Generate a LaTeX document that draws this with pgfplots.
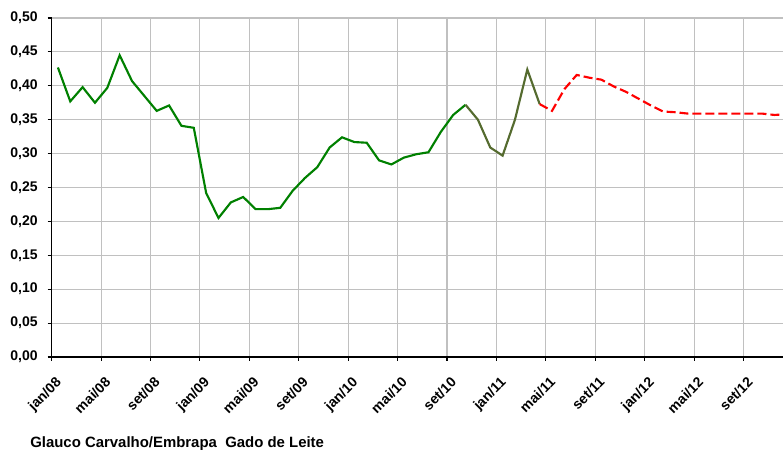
\documentclass[border=0pt]{standalone}
\usepackage{fontspec}
\setmainfont{Liberation Sans}
\usepackage{pgfplots}
\pgfplotsset{compat=1.18}

\definecolor{linegreen}{HTML}{008000}
\definecolor{lineolive}{HTML}{556B2F}
\definecolor{gridgray}{HTML}{C0C0C0}

\begin{document}
\begin{tikzpicture}
  \begin{axis}[
      scale only axis,
      width=548.5pt, height=254.25pt,
      xmin=0, xmax=59.2, ymin=0, ymax=0.5,
      axis lines=left, axis line style={-, black, line width=0.8pt},
      tick align=outside, major tick length=3pt,
      tick style={black, line width=0.8pt},
      xtick={0,4,...,56},
      xticklabels={jan/08,mai/08,set/08,jan/09,mai/09,set/09,jan/10,mai/10,set/10,jan/11,mai/11,set/11,jan/12,mai/12,set/12},
      ytick={0,0.05,...,0.51},
      grid=major, grid style={gridgray, line width=0.8pt},
      ticklabel style={font=\fontsize{10.5}{12}\selectfont\bfseries},
      xticklabel style={xshift=2.25pt, yshift=-9.75pt, anchor=north east, rotate=45, inner sep=1pt},
      yticklabel style={xshift=-4pt, /pgf/number format/.cd, fixed, fixed zerofill, precision=2, use comma},
      /pgf/number format/assume math mode=true,
    ]
    % preços observados
    \addplot[linegreen, line width=1.6pt, mark=none] coordinates {
      (0.5,0.427) (1.5,0.377) (2.5,0.398) (3.5,0.375) (4.5,0.397)
      (5.5,0.445) (6.5,0.407) (7.5,0.385) (8.5,0.363) (9.5,0.371)
      (10.5,0.341) (11.5,0.338) (12.5,0.242) (13.5,0.205) (14.5,0.228)
      (15.5,0.236) (16.5,0.218) (17.5,0.218) (18.5,0.220) (19.5,0.245)
      (20.5,0.264) (21.5,0.280) (22.5,0.309) (23.5,0.324) (24.5,0.317)
      (25.5,0.316) (26.5,0.290) (27.5,0.284) (28.5,0.294) (29.5,0.299)
      (30.5,0.302) (31.5,0.332) (32.5,0.357) (33.5,0.372)
    };
    \addplot[lineolive, line width=1.6pt, mark=none] coordinates {
      (33.5,0.372) (34.5,0.350) (35.5,0.309) (36.5,0.297) (37.5,0.350)
      (38.5,0.424) (39.5,0.373)
    };
    % projeção
    \addplot[red, line width=1.6pt, mark=none, dash pattern=on 6.75pt off 3pt] coordinates {
      (39.5,0.373) (40.5,0.363) (41.5,0.395) (42.5,0.416) (43.5,0.412)
      (44.5,0.409) (45.5,0.399) (46.5,0.391) (47.5,0.381) (48.5,0.371)
      (49.5,0.362) (50.5,0.361) (51.5,0.359) (52.5,0.359) (53.5,0.359)
      (54.5,0.359) (55.5,0.359) (56.5,0.359) (57.5,0.359) (58.5,0.357)
      (59.5,0.358)
    };
  \end{axis}
  \node[anchor=base west, inner sep=0pt, font=\fontsize{11.2}{13}\selectfont\bfseries]
    at ([shift={(-16.3pt,-68pt)}]current axis.south west)
    {Glauco Carvalho/Embrapa\ \ Gado de Leite};
  \pgfresetboundingbox
  \useasboundingbox ([shift={(-38.8pt,-69.75pt)}]current axis.south west)
    rectangle ([shift={(0pt,13.5pt)}]current axis.north east);
\end{tikzpicture}
\end{document}
